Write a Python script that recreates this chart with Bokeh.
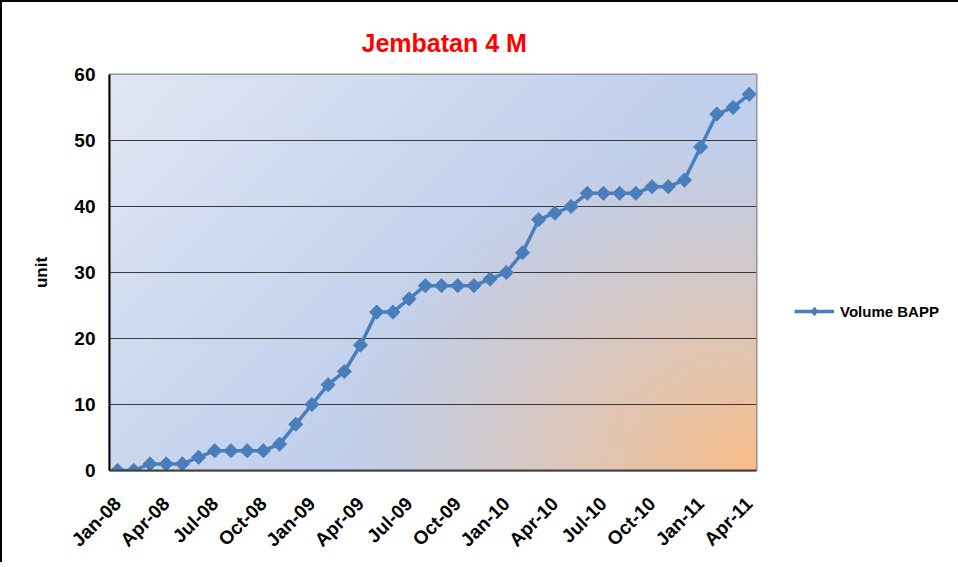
import numpy as np
from bokeh.plotting import figure
from bokeh.models import FixedTicker, Legend, LegendItem, Range1d, ColumnDataSource
from bokeh.embed import file_html
from bokeh.resources import INLINE

# ---- data ----
months = ["Jan-08", "Feb-08", "Mar-08", "Apr-08", "May-08", "Jun-08", "Jul-08", "Aug-08",
          "Sep-08", "Oct-08", "Nov-08", "Dec-08",
          "Jan-09", "Feb-09", "Mar-09", "Apr-09", "May-09", "Jun-09", "Jul-09", "Aug-09",
          "Sep-09", "Oct-09", "Nov-09", "Dec-09",
          "Jan-10", "Feb-10", "Mar-10", "Apr-10", "May-10", "Jun-10", "Jul-10", "Aug-10",
          "Sep-10", "Oct-10", "Nov-10", "Dec-10",
          "Jan-11", "Feb-11", "Mar-11", "Apr-11"]
volume = [0, 0, 1, 1, 1, 2, 3, 3, 3, 3, 4, 7,
          10, 13, 15, 19, 24, 24, 26, 28, 28, 28, 28, 29,
          30, 33, 38, 39, 40, 42, 42, 42, 42, 43, 43, 44,
          49, 54, 55, 57]
y_ticks = [0, 10, 20, 30, 40, 50, 60]
series_name = "Volume BAPP"
title_text = "Jembatan 4 M"
y_label = "unit"

x = list(range(len(months)))
x_ticks = x[::3]
src = ColumnDataSource(dict(x=x, y=volume))

FONT = "Liberation Sans"
BLUE = "#4a7ebb"

p = figure(frame_width=647, frame_height=396, output_backend="svg", toolbar_location=None,
           x_range=Range1d(-0.5, 39.45), y_range=Range1d(0, 60),
           min_border_left=107, min_border_right=196, min_border_top=72,
           min_border_bottom=92, title=title_text)
p.styles = {"border-left": "2px solid #000", "border-top": "2px solid #000"}

# background gradient (style only)
W_px, H_px = 647.0, 396.0
ny, nx = 100, 160
u = np.linspace(0, 1, nx)[None, :]
v = np.linspace(0, 1, ny)[:, None]
t = (u * W_px + (1 - v) * H_px) / (W_px + H_px)
light = np.array([224, 230, 244], dtype=float)
blue = np.array([192, 207, 236], dtype=float)
base = light + (blue - light) * np.clip(t * 1.7, 0, 1)[..., None]
d = np.sqrt(((1 - u) * W_px) ** 2 + (v * H_px * 1.25) ** 2)
a = np.clip(1 - d / 420.0, 0, 1) ** 1.15
orange = np.array([248, 190, 138], dtype=float)
col = base * (1 - a[..., None]) + orange * a[..., None]
img = np.zeros((ny, nx), dtype=np.uint32)
view = img.view(dtype=np.uint8).reshape((ny, nx, 4))
view[..., 0:3] = np.clip(col, 0, 255).astype(np.uint8)
view[..., 3] = 255
p.image_rgba(image=[img], x=-0.5, y=0, dw=39.95, dh=60, level="image")

line_r = p.line("x", "y", source=src, line_color=BLUE, line_width=3.5)
# diamond markers (used for the legend swatch; covered by the rotated squares)
legend_mark = p.scatter("x", "y", source=src, marker="diamond", size=10,
                        fill_color=BLUE, line_color=BLUE, line_width=1)
pts = p.scatter("x", "y", source=src, marker="square", angle=np.pi / 4, size=10,
                fill_color=BLUE, line_color=BLUE, line_width=1)

legend = Legend(items=[LegendItem(label=series_name, renderers=[line_r, legend_mark])],
                location=(38, 148), background_fill_alpha=0, border_line_color=None,
                label_text_font=FONT, label_text_font_style="bold",
                label_text_font_size="15px", label_text_color="#000000",
                glyph_width=40, glyph_height=22,
                label_standoff=6, padding=0, margin=0)
p.add_layout(legend, "right")

# title
p.title.text_color = "#ff0000"
p.title.text_font = FONT
p.title.text_font_style = "bold"
p.title.text_font_size = "25px"
p.title.align = "left"
p.title.offset = 252
p.title.standoff = 35

# axes
p.yaxis.ticker = FixedTicker(ticks=y_ticks)
p.yaxis.axis_line_color = "#000000"
p.yaxis.axis_line_width = 2
p.yaxis.major_tick_line_color = None
p.yaxis.minor_tick_line_color = None
p.yaxis.major_tick_out = 0
p.yaxis.major_tick_in = 0
p.yaxis.major_label_standoff = 14
p.yaxis.major_label_text_font = FONT
p.yaxis.major_label_text_font_style = "bold"
p.yaxis.major_label_text_font_size = "19px"
p.yaxis.major_label_text_color = "#000000"
p.yaxis.axis_label = y_label
p.yaxis.axis_label_text_font = FONT
p.yaxis.axis_label_text_font_style = "bold"
p.yaxis.axis_label_text_font_size = "17px"
p.yaxis.axis_label_text_color = "#000000"
p.yaxis.axis_label_standoff = 20

p.xaxis.ticker = FixedTicker(ticks=x_ticks)
p.xaxis.major_label_overrides = {i: months[i] for i in x_ticks}
p.xaxis.major_label_orientation = np.pi / 4
p.xaxis.axis_line_color = "#404040"
p.xaxis.axis_line_width = 2
p.xaxis.major_tick_line_color = None
p.xaxis.minor_tick_line_color = None
p.xaxis.major_tick_out = 0
p.xaxis.major_tick_in = 0
p.xaxis.major_label_standoff = 30
p.xaxis.major_label_text_font = FONT
p.xaxis.major_label_text_font_style = "bold"
p.xaxis.major_label_text_font_size = "19px"
p.xaxis.major_label_text_color = "#000000"

p.xgrid.visible = False
p.ygrid.ticker = FixedTicker(ticks=y_ticks)
p.ygrid.grid_line_color = "#3a3a3a"
p.ygrid.grid_line_width = 1.2

p.outline_line_color = "#888888"
p.outline_line_width = 2
p.background_fill_color = "#ffffff"
p.border_fill_color = "#ffffff"

open("out.html", "w").write(file_html(p, INLINE))
